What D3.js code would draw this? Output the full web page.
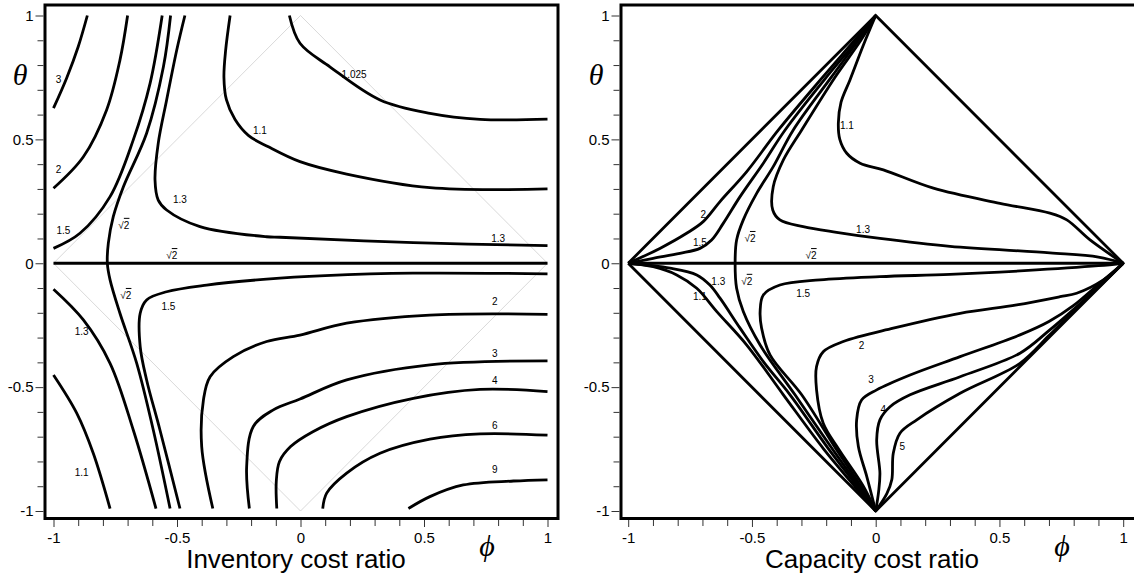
<!DOCTYPE html>
<html>
<head>
<meta charset="utf-8">
<script src="https://cdn.jsdelivr.net/npm/d3@7"></script>
<style>
    body { margin: 0; background: #fff; }
    svg { display: block; font-family: Arial, "Liberation Sans", sans-serif; }
</style>
</head>
<body>
<div id="chart"></div>
<script>
// tick values (both axes, both panels)
const majorTicks = [-1, -0.5, 0, 0.5, 1];
const minorTicks = [-0.9, -0.8, -0.7, -0.6, -0.4, -0.3, -0.2, -0.1, 0.1, 0.2, 0.3, 0.4, 0.6, 0.7, 0.8, 0.9];

// ---- Inventory cost ratio panel: contour lines as [phi, theta] ----
const inv3 = [[-1, 0.626], [-0.947, 0.747], [-0.9, 0.874], [-0.863, 1]];
const inv2 = [[-1, 0.303], [-0.879, 0.43], [-0.785, 0.619], [-0.731, 0.82], [-0.70, 1]];
const inv15a = [[-1, 0.06], [-0.893, 0.121], [-0.771, 0.269], [-0.677, 0.498], [-0.609, 0.726], [-0.56, 1]];
const invRoot2 = [[-0.526, 1], [-0.555, 0.793], [-0.623, 0.525], [-0.717, 0.309], [-0.758, 0.188], [-0.778, 0.081],
    [-0.782, 0], [-0.771, -0.067], [-0.731, -0.202], [-0.663, -0.404], [-0.596, -0.673], [-0.528, -0.99]];
const inv13a = [[-0.468, 1], [-0.501, 0.861], [-0.542, 0.659], [-0.576, 0.484], [-0.589, 0.336], [-0.576, 0.255],
    [-0.542, 0.215], [-0.407, 0.148], [-0.137, 0.107], [-0.083, 0.105], [0.457, 0.083], [1, 0.071]];
const inv11a = [[-0.285, 1], [-0.303, 0.86], [-0.31, 0.75], [-0.3, 0.66], [-0.265, 0.58], [-0.21, 0.515],
    [-0.13, 0.47], [-0.002, 0.41], [0.187, 0.36], [0.524, 0.305], [1, 0.3]];
const inv1025 = [[-0.045, 1], [-0.002, 0.888], [0.119, 0.793], [0.322, 0.659], [0.524, 0.605], [0.727, 0.581], [1, 0.582]];
const invZero = [[-1, 0], [1, 0]];
const inv15b = [[1, -0.043], [0.455, -0.04], [0.1, -0.05], [-0.137, -0.064], [-0.38, -0.088], [-0.542, -0.115],
    [-0.623, -0.148], [-0.649, -0.202], [-0.649, -0.337], [-0.623, -0.471], [-0.569, -0.673], [-0.488, -0.99]];
const inv13b = [[-1, -0.105], [-0.879, -0.229], [-0.771, -0.404], [-0.677, -0.673], [-0.585, -0.99]];
const inv11b = [[-1, -0.451], [-0.906, -0.605], [-0.839, -0.767], [-0.771, -0.99]];
const inv2b = [[-0.355, -0.99], [-0.4, -0.74], [-0.393, -0.552], [-0.366, -0.458], [-0.272, -0.377], [-0.137, -0.316],
    [-0.002, -0.29], [0.187, -0.242], [0.524, -0.209], [1, -0.206]];
const inv3b = [[-0.207, -0.99], [-0.218, -0.821], [-0.191, -0.659], [-0.11, -0.592], [-0.002, -0.548], [0.187, -0.471],
    [0.524, -0.41], [1, -0.394]];
const inv4 = [[-0.096, -0.99], [-0.098, -0.88], [-0.085, -0.8], [-0.04, -0.74], [0.05, -0.68], [0.187, -0.619],
    [0.457, -0.545], [0.727, -0.509], [1, -0.518]];
const inv6 = [[0.09, -0.99], [0.106, -0.928], [0.187, -0.847], [0.322, -0.767], [0.524, -0.71], [0.727, -0.689], [1, -0.694]];
const inv9 = [[0.437, -0.99], [0.524, -0.942], [0.659, -0.895], [0.862, -0.879], [1, -0.874]];
const invDiamond = [[-1, 0], [0, 1], [1, 0], [0, -1], [-1, 0]];

const invLabels = [
    [-0.98, 0.74, '3'], [-0.98, 0.377, '2'], [-0.96, 0.134, '1.5'], [-0.715, 0.155, 'r2'], [-0.488, 0.258, '1.3'],
    [-0.164, 0.535, '1.1'], [0.217, 0.762, '1.025'], [0.8, 0.101, '1.3'], [-0.521, 0.033, 'r2'],
    [-0.707, -0.128, 'r2'], [-0.535, -0.175, '1.5'], [-0.886, -0.276, '1.3'], [-0.886, -0.845, '1.1'],
    [0.787, -0.155, '2'], [0.787, -0.366, '3'], [0.787, -0.474, '4'], [0.787, -0.655, '6'], [0.787, -0.834, '9']
];

// ---- Capacity cost ratio panel ----
const capEdge = [[-1, 0], [0, 1], [1, 0], [0, -1], [-1, 0]];
const capZero = [[-1, 0], [1, 0]];
const cap2a = [[-1, 0], [-0.872, 0.06], [-0.764, 0.121], [-0.697, 0.168], [-0.629, 0.249], [-0.521, 0.37],
    [-0.393, 0.538], [-0.215, 0.75], [-0.085, 0.9], [0, 1]];
const cap15a = [[-1, 0], [-0.899, 0.02], [-0.791, 0.04], [-0.71, 0.06], [-0.663, 0.094], [-0.616, 0.161],
    [-0.548, 0.269], [-0.454, 0.404], [-0.366, 0.538], [-0.2, 0.75], [-0.075, 0.9], [0, 1]];
const capRoot2 = [[0, 1], [-0.07, 0.9], [-0.18, 0.75], [-0.333, 0.538], [-0.414, 0.39], [-0.481, 0.282],
    [-0.535, 0.175], [-0.562, 0.094], [-0.568, 0], [-0.562, -0.101], [-0.535, -0.195], [-0.467, -0.33],
    [-0.326, -0.531], [-0.175, -0.75], [-0.068, -0.9], [0, -1]];
const cap13a = [[0, 1], [-0.06, 0.9], [-0.165, 0.75], [-0.299, 0.538], [-0.373, 0.417], [-0.414, 0.309],
    [-0.416, 0.215], [-0.387, 0.175], [-0.293, 0.148], [-0.158, 0.125], [0.017, 0.1], [0.3, 0.068],
    [0.704, 0.042], [0.9, 0.025], [1, 0]];
const cap11 = [[0, 1], [-0.05, 0.88], [-0.104, 0.74], [-0.14, 0.65], [-0.151, 0.565], [-0.145, 0.5],
    [-0.117, 0.444], [-0.063, 0.404], [0.031, 0.377], [0.233, 0.303], [0.502, 0.242], [0.704, 0.202],
    [0.772, 0.175], [0.866, 0.094], [1, 0]];
const cap13b = [[-1, 0], [-0.831, -0.02], [-0.723, -0.047], [-0.67, -0.088], [-0.629, -0.141], [-0.548, -0.262],
    [-0.454, -0.397], [-0.346, -0.531], [-0.19, -0.75], [-0.075, -0.9], [0, -1]];
const cap11b = [[-1, 0], [-0.899, -0.014], [-0.804, -0.047], [-0.723, -0.101], [-0.642, -0.195], [-0.521, -0.33],
    [-0.373, -0.531], [-0.21, -0.75], [-0.085, -0.9], [0, -1]];
const cap15b = [[1, 0], [0.9, -0.01], [0.6, -0.03], [0.3, -0.045], [0.017, -0.054], [-0.225, -0.067],
    [-0.387, -0.088], [-0.454, -0.128], [-0.467, -0.195], [-0.461, -0.262], [-0.427, -0.37], [-0.299, -0.531],
    [-0.16, -0.75], [-0.06, -0.9], [0, -1]];
const cap2b = [[1, 0], [0.92, -0.067], [0.812, -0.121], [0.745, -0.135], [0.57, -0.168], [0.341, -0.202],
    [0.071, -0.262], [-0.131, -0.316], [-0.212, -0.357], [-0.239, -0.417], [-0.239, -0.511], [-0.212, -0.646],
    [-0.15, -0.75], [-0.05, -0.9], [0, -1]];
const cap3 = [[1, 0], [0.9, -0.085], [0.8, -0.17], [0.7, -0.235], [0.583, -0.289], [0.341, -0.377], [0.139, -0.451],
    [0.004, -0.511], [-0.057, -0.552], [-0.077, -0.632], [-0.07, -0.74], [-0.036, -0.861], [0, -1]];
const cap4 = [[1, 0], [0.9, -0.095], [0.8, -0.186], [0.7, -0.272], [0.583, -0.363], [0.341, -0.458], [0.139, -0.531],
    [0.058, -0.579], [0.017, -0.632], [0.004, -0.713], [0.017, -0.847], [0.012, -0.92], [0, -1]];
const cap5 = [[1, 0], [0.9, -0.097], [0.8, -0.193], [0.7, -0.292], [0.583, -0.404], [0.341, -0.525], [0.166, -0.632],
    [0.098, -0.686], [0.071, -0.767], [0.065, -0.874], [0.045, -0.93], [0, -1]];

const capLabels = [
    [-0.697, 0.195, '2'], [-0.71, 0.082, '1.5'], [-0.508, 0.102, 'r2'], [-0.116, 0.554, '1.1'], [-0.051, 0.138, '1.3'],
    [-0.261, 0.033, 'r2'], [-0.636, -0.074, '1.3'], [-0.521, -0.071, 'r2'], [-0.71, -0.135, '1.1'],
    [-0.293, -0.121, '1.5'], [-0.057, -0.33, '2'], [-0.019, -0.471, '3'], [0.031, -0.589, '4'], [0.107, -0.74, '5']
];

const width = 1134, height = 576;

const svg = d3.select('#chart')
    .append('svg')
    .attr('width', width)
    .attr('height', height);

// plain hyphen-minus like the original, not the unicode minus d3.format gives
const tickText = d => String(d);

function drawPanel(opts) {
    const x = d3.scaleLinear().domain([-1, 1]).range([opts.xLeft, opts.xRight]);
    const y = d3.scaleLinear().domain([-1, 1]).range([511, 15.5]);
    const g = svg.append('g');

    const line = d3.line()
        .x(d => x(d[0]))
        .y(d => y(d[1]))
        .curve(d3.curveCatmullRom.alpha(0.5));
    const straight = d3.line().x(d => x(d[0])).y(d => y(d[1]));

    // faint reference diamond (left panel only)
    if (opts.guide) {
        g.append('path')
            .attr('d', straight(opts.guide))
            .attr('fill', 'none')
            .attr('stroke', '#cfcfcf')
            .attr('stroke-width', 0.8);
    }

    // straight thick lines (zero line, feasibility edge)
    g.selectAll('path.edge')
        .data(opts.edges)
        .enter()
        .append('path')
        .attr('class', 'edge')
        .attr('d', straight)
        .attr('fill', 'none')
        .attr('stroke', '#000')
        .attr('stroke-width', 2.8)
        .attr('stroke-linejoin', 'miter');

    // contour lines
    g.selectAll('path.contour')
        .data(opts.curves)
        .enter()
        .append('path')
        .attr('class', 'contour')
        .attr('d', line)
        .attr('fill', 'none')
        .attr('stroke', '#000')
        .attr('stroke-width', 2.8)
        .attr('stroke-linecap', 'butt');

    // contour labels
    const labels = g.selectAll('text.lab')
        .data(opts.labels)
        .enter()
        .append('text')
        .attr('class', 'lab')
        .attr('x', d => x(d[0]))
        .attr('y', d => y(d[1]))
        .attr('text-anchor', 'middle')
        .attr('dominant-baseline', 'central')
        .attr('font-size', '10px')
        .attr('fill', '#000');
    labels.each(function(d) {
        const t = d3.select(this);
        if (d[2] === 'r2') {
            t.append('tspan').text('\u221A');
            t.append('tspan').style('text-decoration', 'overline').text('2');
        } else {
            t.text(d[2]);
        }
    });

    // frame
    g.append('rect')
        .attr('x', opts.frame[0])
        .attr('y', 5)
        .attr('width', opts.frame[1] - opts.frame[0])
        .attr('height', 513.5)
        .attr('fill', 'none')
        .attr('stroke', '#000')
        .attr('stroke-width', 3);

    // axes: minor then major ticks
    const yMinor = g.append('g')
        .attr('transform', `translate(${opts.frame[0] - 1.5},0)`)
        .call(d3.axisLeft(y).tickValues(minorTicks).tickSize(6).tickFormat(''));
    const yMajor = g.append('g')
        .attr('transform', `translate(${opts.frame[0] - 1.5},0)`)
        .call(d3.axisLeft(y).tickValues(majorTicks).tickSize(8).tickPadding(2).tickFormat(tickText));
    const xMinor = g.append('g')
        .attr('transform', 'translate(0,520)')
        .call(d3.axisBottom(x).tickValues(minorTicks).tickSize(6).tickFormat(''));
    const xMajor = g.append('g')
        .attr('transform', 'translate(0,520)')
        .call(d3.axisBottom(x).tickValues(majorTicks).tickSize(7).tickPadding(5).tickFormat(tickText));

    [yMinor, yMajor, xMinor, xMajor].forEach(a => {
        a.select('.domain').remove();
        a.selectAll('line').attr('stroke', '#333');
        a.selectAll('text')
            .attr('font-family', 'Arial, "Liberation Sans", sans-serif')
            .attr('font-size', '15px')
            .attr('fill', '#000');
    });

    // axis symbols and title
    g.append('text')
        .attr('x', opts.thetaX)
        .attr('y', 74)
        .attr('text-anchor', 'middle')
        .attr('dominant-baseline', 'central')
        .attr('font-family', '"Liberation Serif", "DejaVu Serif", serif')
        .attr('font-style', 'italic')
        .attr('font-size', '30px')
        .text('\u03B8');
    g.append('text')
        .attr('x', opts.phiX)
        .attr('y', 545)
        .attr('text-anchor', 'middle')
        .attr('dominant-baseline', 'central')
        .attr('font-family', '"Liberation Serif", "DejaVu Serif", serif')
        .attr('font-style', 'italic')
        .attr('font-size', '30px')
        .text('\u03D5');
    g.append('text')
        .attr('x', opts.titleX)
        .attr('y', 568)
        .attr('text-anchor', 'middle')
        .attr('font-size', '26px')
        .attr('fill', '#000')
        .text(opts.title);
}

drawPanel({
    xLeft: 53.5, xRight: 547.5, frame: [45, 558],
    guide: invDiamond,
    edges: [invZero],
    curves: [inv3, inv2, inv15a, invRoot2, inv13a, inv11a, inv1025, inv15b, inv13b, inv11b, inv2b, inv3b, inv4, inv6, inv9],
    labels: invLabels,
    thetaX: 20, phiX: 487, titleX: 296,
    title: 'Inventory cost ratio'
});

drawPanel({
    xLeft: 628.2, xRight: 1123.2, frame: [621, 1138],
    guide: null,
    edges: [capEdge, capZero],
    curves: [cap2a, cap15a, capRoot2, cap13a, cap11, cap13b, cap11b, cap15b, cap2b, cap3, cap4, cap5],
    labels: capLabels,
    thetaX: 596, phiX: 1062, titleX: 872,
    title: 'Capacity cost ratio'
});
</script>
</body>
</html>
